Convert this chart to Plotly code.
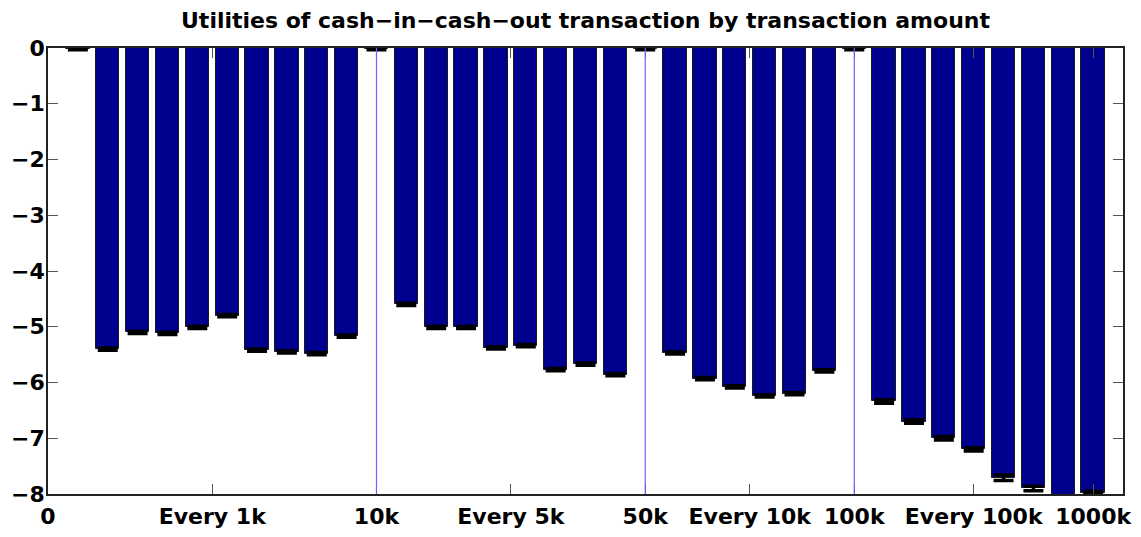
import plotly.graph_objects as go

# ---- data ----
bar_x = list(range(1, 36))
values = [-0.01, -5.40, -5.10, -5.12, -5.01, -4.80, -5.42, -5.45, -5.48, -5.17,
          -0.01, -4.60, -5.01, -5.01, -5.38, -5.34, -5.77, -5.67, -5.86,
          -0.01, -5.47, -5.93, -6.08, -6.24, -6.20, -5.79,
          -0.01, -6.34, -6.70, -7.00, -7.20, -7.71, -7.90, -8.30, -7.98]
errors = [0.02, 0.02, 0.02, 0.02, 0.02, 0.02, 0.02, 0.02, 0.02, 0.02,
          0.02, 0.02, 0.02, 0.02, 0.02, 0.02, 0.02, 0.02, 0.02,
          0.02, 0.02, 0.02, 0.02, 0.02, 0.02, 0.02,
          0.02, 0.03, 0.03, 0.03, 0.03, 0.05, 0.04, 0.03, 0.03]
separators = [11, 20, 27]
tick_pos = [0, 5.5, 11, 15.5, 20, 23.5, 27, 31, 35]
tick_text = ["0", "Every 1k", "10k", "Every 5k", "50k", "Every 10k", "100k", "Every 100k", "1000k"]
y_ticks = [0, -1, -2, -3, -4, -5, -6, -7, -8]
title_text = "Utilities of cash\u2212in\u2212cash\u2212out transaction by transaction amount"

FONT = "DejaVu Sans"
W, H = 1133, 529  # page body has an 8px margin in the browser

fig = go.Figure()
fig.add_trace(go.Bar(
    x=bar_x, y=values, width=0.78,
    marker=dict(color="#00008F", line=dict(color="#1a1a1a", width=1)),
    error_y=dict(type="data", array=errors, color="black", thickness=3.5, width=10),
    showlegend=False,
))

for s in separators:
    fig.add_shape(type="line", x0=s, x1=s, y0=0, y1=-8, xref="x", yref="y",
                  line=dict(color="rgb(100,100,255)", width=1.2), layer="above")

fig.update_layout(
    width=W, height=H,
    margin=dict(l=40, r=18, t=40, b=43),
    paper_bgcolor="white", plot_bgcolor="white",
    bargap=0,
    title=dict(text=title_text, x=0.5, xanchor="center", xref="paper",
               y=1 - 12 / H, yref="container", yanchor="middle",
               font=dict(family=FONT, size=22, color="black", weight="bold")),
    font=dict(family=FONT, size=22, color="black", weight="bold"),
)
fig.update_xaxes(range=[0, 36], tickmode="array", tickvals=tick_pos, ticktext=tick_text,
                 ticks="inside", ticklen=10, tickcolor="#555", tickwidth=1,
                 showline=True, linecolor="#222", linewidth=1.5, mirror="ticks",
                 showgrid=False, zeroline=False, automargin=False,
                 ticklabelstandoff=2,
                 tickfont=dict(family=FONT, size=22, color="black", weight="bold"))
fig.update_yaxes(range=[-8, 0], tickmode="array", tickvals=y_ticks,
                 ticks="inside", ticklen=10, tickcolor="#555", tickwidth=1,
                 showline=True, linecolor="#222", linewidth=1.5, mirror="ticks",
                 showgrid=False, zeroline=False, automargin=False,
                 ticklabelstandoff=-3,
                 tickfont=dict(family=FONT, size=22, color="black", weight="bold"))

fig.write_html("out.html")
